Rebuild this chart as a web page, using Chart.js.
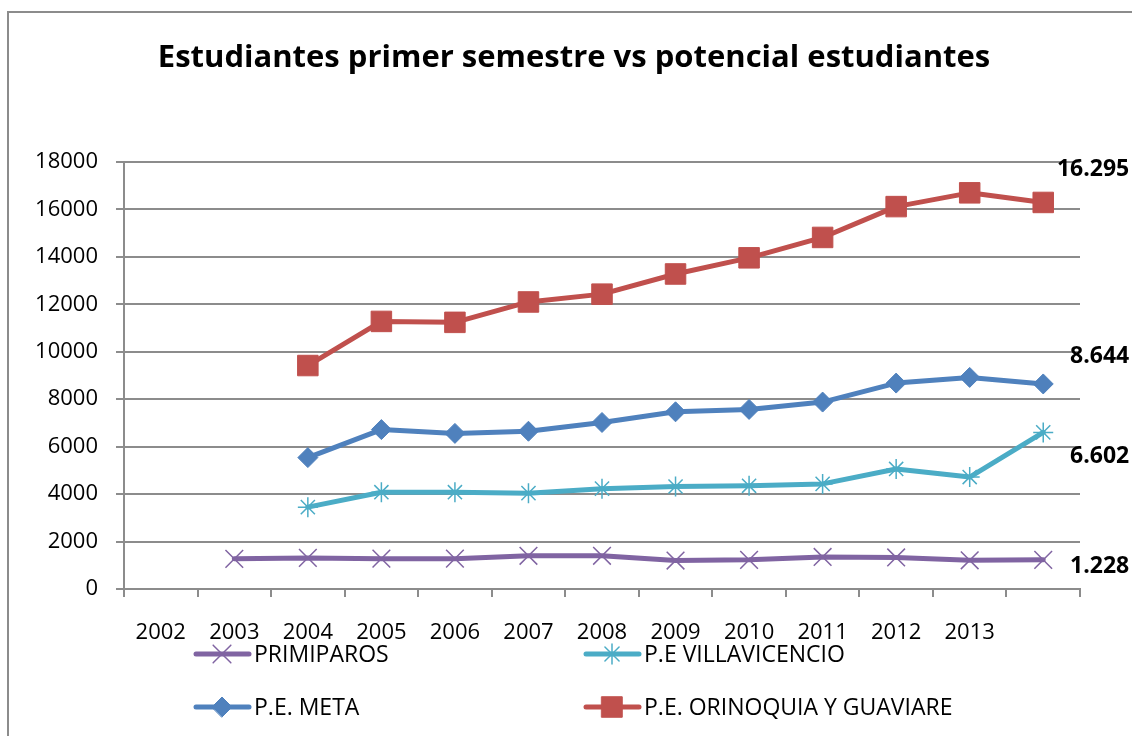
<!DOCTYPE html>
<html lang="es">
<head>
<meta charset="utf-8">
<title>Estudiantes primer semestre vs potencial estudiantes</title>
<script src="https://cdn.jsdelivr.net/npm/chart.js@4.4.1/dist/chart.umd.min.js"></script>
<style>
  html, body { margin: 0; padding: 0; background: #fff; overflow: hidden; }
  #wrap { position: relative; width: 1132px; height: 736px; overflow: hidden; }
  #frame { position: absolute; left: 7px; top: 11px; width: 1200px; height: 800px; border: 2px solid #8c8c8c; }
  #chart { position: absolute; left: 0; top: 0; }
</style>
</head>
<body>
<div id="wrap">
  <div id="frame"></div>
  <canvas id="chart" width="1132" height="736"></canvas>
</div>
<script>
  // Category labels (the last slot carries no label)
  const years = ['2002', '2003', '2004', '2005', '2006', '2007', '2008', '2009', '2010', '2011', '2012', '2013', ''];

  // Series values per category
  const primiparos    = [null, 1270, 1310, 1280, 1280, 1400, 1400, 1200, 1230, 1350, 1330, 1210, 1228];
  const villavicencio = [null, null, 3450, 4080, 4080, 4040, 4230, 4320, 4350, 4430, 5060, 4720, 6602];
  const meta          = [null, null, 5540, 6720, 6560, 6650, 7020, 7470, 7570, 7880, 8680, 8920, 8644];
  const orinoquia     = [null, null, 9420, 11280, 11240, 12100, 12430, 13280, 13960, 14820, 16120, 16700, 16295];

  // Y axis range
  const yMin = 0;
  const yMax = 18000;
  const yStep = 2000;

  const FONT = '"Open Sans", "DejaVu Sans", sans-serif';
  const GRID = '#8c8c8c';

  function fmtMiles(v) {
    return String(v).replace(/\B(?=(\d{3})+(?!\d))/g, '.');
  }

  // Title drawn at a fixed spot above the plot
  const titlePlugin = {
    id: 'titulo',
    afterDraw(chart) {
      const ctx = chart.ctx;
      ctx.save();
      ctx.font = 'bold 31px ' + FONT;
      ctx.fillStyle = '#000';
      ctx.textAlign = 'center';
      ctx.textBaseline = 'alphabetic';
      ctx.fillText('Estudiantes primer semestre vs potencial estudiantes', 574, 67);
      ctx.restore();
    }
  };

  // Value label next to the last point of each series
  const lastValuePlugin = {
    id: 'ultimoValor',
    afterDatasetsDraw(chart) {
      const ctx = chart.ctx;
      ctx.save();
      ctx.font = 'bold 23px ' + FONT;
      ctx.fillStyle = '#000';
      ctx.textAlign = 'right';
      ctx.textBaseline = 'middle';
      chart.data.datasets.forEach((ds, i) => {
        const pts = chart.getDatasetMeta(i).data;
        const last = ds.data.length - 1;
        const p = pts[last];
        if (!p || ds.data[last] == null) return;
        ctx.fillText(fmtMiles(ds.data[last]), p.x + 86, p.y + ds.labelDy);
      });
      ctx.restore();
    }
  };

  // Two-column legend under the axis
  const legendPlugin = {
    id: 'leyenda',
    afterDraw(chart) {
      const ctx = chart.ctx;
      const slots = [[196, 654], [586, 654], [196, 707], [586, 707]];
      ctx.save();
      chart.data.datasets.forEach((ds, i) => {
        const [x, y] = slots[i];
        ctx.strokeStyle = ds.borderColor;
        ctx.lineWidth = 5;
        ctx.lineCap = 'round';
        ctx.beginPath();
        ctx.moveTo(x, y);
        ctx.lineTo(x + 53, y);
        ctx.stroke();

        ctx.fillStyle = ds.pointBackgroundColor;
        ctx.strokeStyle = ds.pointBorderColor;
        ctx.lineWidth = ds.pointBorderWidth;
        Chart.helpers.drawPoint(ctx, {
          pointStyle: ds.pointStyle,
          rotation: 0,
          radius: ds.pointRadius,
          borderWidth: ds.pointBorderWidth
        }, x + 26, y);

        ctx.fillStyle = '#000';
        ctx.font = '23px ' + FONT;
        ctx.textAlign = 'left';
        ctx.textBaseline = 'middle';
        ctx.fillText(ds.label, x + 58, y + 1);
      });
      ctx.restore();
    }
  };

  function serie(label, data, color, style, radius, pbw, labelDy) {
    return {
      label: label,
      data: data,
      borderColor: color,
      backgroundColor: color,
      borderWidth: 5,
      borderJoinStyle: 'round',
      borderCapStyle: 'round',
      pointStyle: style,
      pointRadius: radius,
      pointBackgroundColor: color,
      pointBorderColor: color,
      pointBorderWidth: pbw,
      tension: 0,
      spanGaps: false,
      labelDy: labelDy
    };
  }

  new Chart(document.getElementById('chart'), {
    type: 'line',
    data: {
      labels: years,
      datasets: [
        serie('PRIMIPAROS', primiparos, '#8064A2', 'crossRot', 12.5, 1.5, 7),
        serie('P.E VILLAVICENCIO', villavicencio, '#4BACC6', 'star', 10, 1.5, 24),
        serie('P.E. META', meta, '#4F81BD', 'rectRot', 10, 1, -27),
        serie('P.E. ORINOQUIA Y GUAVIARE', orinoquia, '#C0504D', 'rect', 14.5, 1, -33)
      ]
    },
    options: {
      responsive: false,
      animation: false,
      layout: { padding: { top: 162, right: 52, bottom: 87, left: 0 } },
      plugins: {
        legend: { display: false },
        title: { display: false },
        tooltip: { enabled: false }
      },
      scales: {
        x: {
          offset: true,
          grid: { offset: true, drawOnChartArea: false, drawTicks: true, tickLength: 8, color: GRID, lineWidth: 2 },
          border: { color: GRID, width: 2 },
          ticks: { font: { family: FONT, size: 22 }, color: '#000', padding: 23, maxRotation: 0, autoSkip: false },
          afterFit(scale) { scale.height = 60; }
        },
        y: {
          min: yMin,
          max: yMax,
          grid: { color: GRID, lineWidth: 2, tickLength: 8 },
          border: { color: GRID, width: 2 },
          ticks: {
            stepSize: yStep,
            font: { family: FONT, size: 22 },
            color: '#000',
            padding: 18,
            callback: v => String(v)
          },
          afterFit(scale) { scale.width = 124; }
        }
      }
    },
    plugins: [titlePlugin, lastValuePlugin, legendPlugin]
  });
</script>
</body>
</html>
